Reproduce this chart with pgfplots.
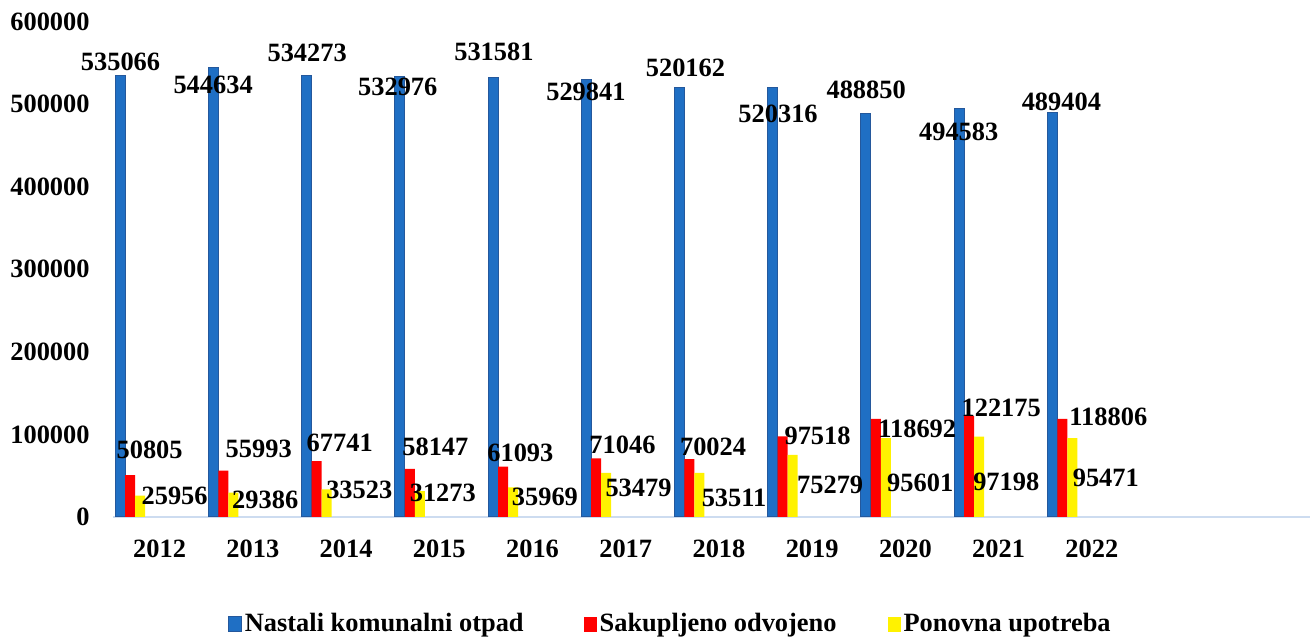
\documentclass[border=0pt]{standalone}
\usepackage{fontspec}
\setmainfont{Liberation Serif}
\usepackage{pgfplots}
\pgfplotsset{compat=1.18}
\definecolor{barblue}{RGB}{31,111,196}
\definecolor{barblueedge}{RGB}{36,88,156}
\definecolor{axisblue}{RGB}{205,220,240}
\newcommand{\lf}{\fontsize{13.2}{15}\selectfont\bfseries}
\begin{document}
\begin{tikzpicture}
\begin{axis}[
  scale only axis, width=598.5pt, height=247.8pt,
  xmin=-0.5, xmax=12.34, ymin=0, ymax=600000,
  axis lines*=left,
  x axis line style={draw=axisblue, line width=0.9pt},
  y axis line style={draw=none},
  major tick length=0pt,
  xtick={0,1,2,3,4,5,6,7,8,9,10},
  xticklabels={2012,2013,2014,2015,2016,2017,2018,2019,2020,2021,2022},
  ytick={0,100000,200000,300000,400000,500000,600000},
  scaled y ticks=false,
  /pgf/number format/assume math mode=true,
  yticklabel style={/pgf/number format/fixed, /pgf/number format/1000 sep={}, anchor=east, inner sep=0pt, xshift=-11.5pt},
  xticklabel style={anchor=north, inner sep=0pt, yshift=-11.5pt},
  ticklabel style={font=\lf},
  clip=false,
  legend columns=3,
  legend style={at={(0.096,-0.216)}, anchor=west, draw=none, fill=none, font=\lf, inner sep=0pt, outer sep=0pt, nodes={inner sep=1.5pt}, /tikz/column 2/.style={column sep=28.5pt}, /tikz/column 4/.style={column sep=24pt}},
  mylegend/.style={legend image code/.code={\fill[##1] (0pt,-3.75pt) rectangle (6.5pt,3.75pt);}},
]
\addplot[ybar, bar width=5pt, bar shift=-19.75pt, fill=barblue, draw=barblueedge, line width=0.5pt, mylegend] coordinates {
 (0,535066) (1,544634) (2,534273) (3,532976) (4,531581) (5,529841) (6,520162) (7,520316) (8,488850) (9,494583) (10,489404)};
\addlegendentry{Nastali komunalni otpad}
\addplot[ybar, bar width=5pt, bar shift=-14.75pt, fill=red, draw=none, mylegend] coordinates {
 (0,50805) (1,55993) (2,67741) (3,58147) (4,61093) (5,71046) (6,70024) (7,97518) (8,118692) (9,122175) (10,118806)};
\addlegendentry{Sakupljeno odvojeno}
\addplot[ybar, bar width=5pt, bar shift=-9.75pt, fill=yellow, draw=none, mylegend] coordinates {
 (0,25956) (1,29386) (2,33523) (3,31273) (4,35969) (5,53479) (6,53511) (7,75279) (8,95601) (9,97198) (10,95471)};
\addlegendentry{Ponovna upotreba}
\begin{scope}[every node/.style={font=\lf, inner sep=0pt}]
% blue
\node at (axis cs:-0.419,551450) {535066};
\node at (axis cs:0.574,523001) {544634};
\node at (axis cs:1.583,561742) {534273};
\node at (axis cs:2.555,521185) {532976};
\node at (axis cs:3.586,562952) {531581};
\node at (axis cs:4.573,514526) {529841};
\node at (axis cs:5.641,544187) {520162};
\node at (axis cs:6.634,487892) {520316};
\node at (axis cs:7.579,516948) {488850};
\node at (axis cs:8.572,466100) {494583};
\node at (axis cs:9.673,502420) {489404};
% red
\node at (axis cs:-0.107,81719) {50805};
\node at (axis cs:1.063,82324) {55993};
\node at (axis cs:1.932,89588) {67741};
\node at (axis cs:2.958,84746) {58147};
\node at (axis cs:3.870,77482) {61093};
\node at (axis cs:4.965,87167) {71046};
\node at (axis cs:5.937,84746) {70024};
\node at (axis cs:7.058,98063) {97518};
\node at (axis cs:8.127,106537) {118692};
\node at (axis cs:9.028,131961) {122175};
\node at (axis cs:10.177,121065) {118806};
% yellow
\node at (axis cs:0.161,25424) {25956};
\node at (axis cs:1.133,21186) {29386};
\node at (axis cs:2.142,32688) {33523};
\node at (axis cs:3.038,29056) {31273};
\node at (axis cs:4.133,24213) {35969};
\node at (axis cs:5.137,35109) {53479};
\node at (axis cs:6.162,23002) {53511};
\node at (axis cs:7.193,38741) {75279};
\node at (axis cs:8.159,41162) {95601};
\node at (axis cs:9.082,42373) {97198};
\node at (axis cs:10.150,47821) {95471};
\end{scope}
\end{axis}
\pgfresetboundingbox
\path[use as bounding box] (-56.5pt,-60pt) rectangle (600.5pt,258.5pt);
\end{tikzpicture}
\end{document}
